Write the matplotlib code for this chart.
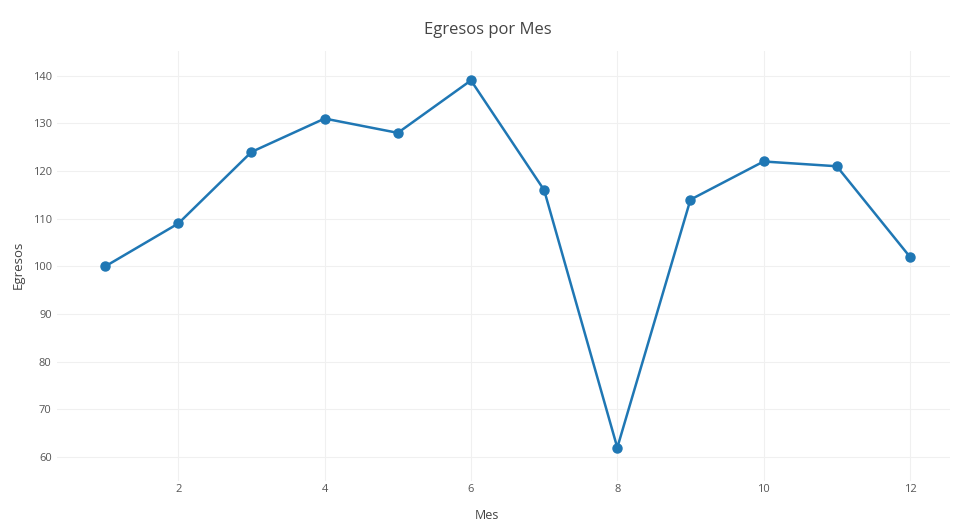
import numpy as np
from matplotlib import pyplot as plt

meses = [1, 2, 3, 4, 5, 6, 7, 8, 9, 10, 11, 12]
egresos = [100, 109, 124, 131, 128, 139, 116, 62, 114, 122, 121, 102]
xticks = [2, 4, 6, 8, 10, 12]
yticks = [60, 70, 80, 90, 100, 110, 120, 130, 140]

plt.rcParams['font.family'] = ['Open Sans', 'DejaVu Sans']

fig = plt.figure(figsize=(9.54, 5.24), dpi=100)
ax = fig.add_axes([0.060, 0.082, 0.936, 0.821])

ax.plot(meses, egresos, color="#1f77b4", linestyle="-", linewidth=1.8,
        marker="o", markersize=6.5, zorder=3)

ax.set_xlim(0.345, 12.55)
ax.set_ylim(55, 145.2)
ax.set_xticks(xticks)
ax.set_yticks(yticks)
ax.grid(True, color="#f0f0f0", linewidth=0.8)
ax.set_axisbelow(True)
for s in ax.spines.values():
    s.set_visible(False)
ax.tick_params(length=0, labelsize=8, labelcolor="#555555", pad=4)
ax.tick_params(axis="x", pad=2)

# titulo y etiquetas de ejes
fig.text(0.511, 0.943, "Egresos por Mes", fontsize=12, color="#444444",
         ha="center", va="center")
fig.text(0.51, 0.017, "Mes", fontsize=9, color="#444444",
         ha="center", va="center")
fig.text(0.019, 0.495, "Egresos", fontsize=9.5, color="#444444",
         ha="center", va="center", rotation=90)

fig.savefig("out.png", dpi=100)
